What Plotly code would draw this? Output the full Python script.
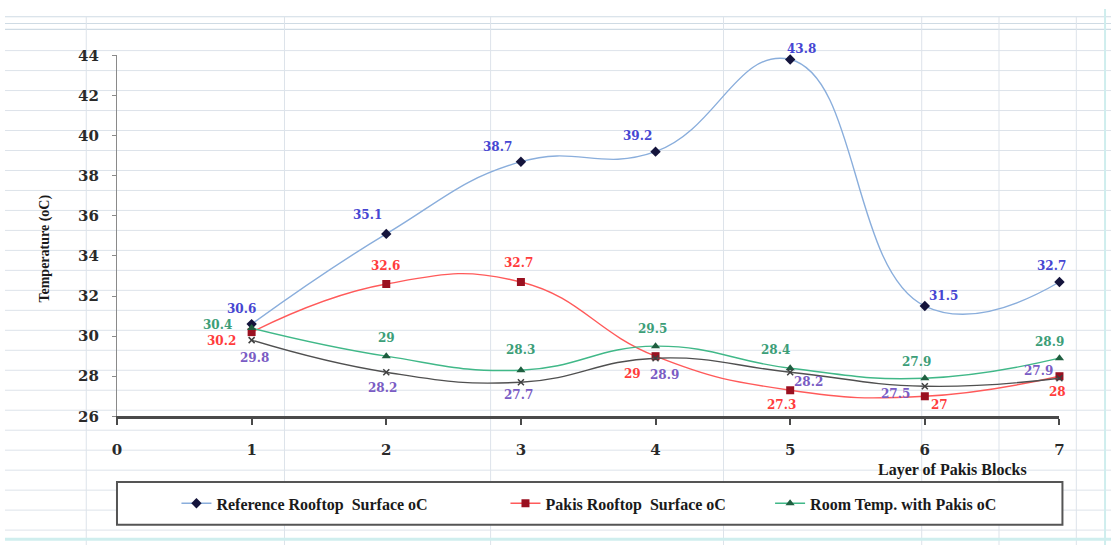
import plotly.graph_objects as go

W, H = 1116, 554

# ---- data ----
layers = [1, 2, 3, 4, 5, 6, 7]
reference_rooftop = [30.6, 35.1, 38.7, 39.2, 43.8, 31.5, 32.7]
pakis_rooftop = [30.2, 32.6, 32.7, 29, 27.3, 27, 28]
room_with_pakis = [30.4, 29, 28.3, 29.5, 28.4, 27.9, 28.9]
room_without = [29.8, 28.2, 27.7, 28.9, 28.2, 27.5, 27.9]
x_ticks = [0, 1, 2, 3, 4, 5, 6, 7]
y_ticks = [26, 28, 30, 32, 34, 36, 38, 40, 42, 44]

# label offsets (pixels, +y is up)
ref_off = [(-10, 15), (-19, 19), (-23, 15), (-18, 16), (11, 10), (19, 10), (-8, 16)]
pak_off = [(-30, -9), (-1, 18), (-2, 19), (-23, -18), (-9, -15), (15, -9), (-2, -16)]
room_off = [(-34, 3), (0, 18), (0, 20), (-3, 17), (-15, 18), (-8, 16), (-10, 16)]
bare_off = [(3, -18), (-4, -16), (-2, -13), (9, -17), (18, -10), (-29, -8), (-21, 7)]


def px(xp):
    return xp / W


def py(yp):
    return 1 - yp / H


NUM_FONT = "DejaVu Serif"
TXT_FONT = "Liberation Serif"

fig = go.Figure()

series = [
    dict(name="Reference Rooftop  Surface oC", y=reference_rooftop, line="#8aaedc",
         mk=dict(symbol="diamond", size=8, color="#14143c"), lab="#4646d2",
         off=ref_off, legend="legend"),
    dict(name="Pakis Rooftop  Surface oC", y=pakis_rooftop, line="#ff5a5a",
         mk=dict(symbol="square", size=8, color="#9a1020"), lab="#ff3c3c",
         off=pak_off, legend="legend2"),
    dict(name="Room Temp. with Pakis oC", y=room_with_pakis, line="#40b888",
         mk=dict(symbol="triangle-up", size=8, color="#1f5f40"), lab="#3c9e78",
         off=room_off, legend="legend3"),
    dict(name="Room Temp. without Pakis oC", y=room_without, line="#505050",
         mk=dict(symbol="x-thin", size=6, color="#404040", line=dict(width=1.5, color="#404040")),
         lab="#7a5cc4", off=bare_off, legend=None),
]

annotations = []
for s in series:
    fig.add_trace(go.Scatter(
        x=layers, y=s["y"], name=s["name"], mode="lines+markers",
        line=dict(color=s["line"], width=1.4, shape="spline", smoothing=1.3),
        marker=s["mk"], cliponaxis=False,
        showlegend=s["legend"] is not None,
        legend=s["legend"] if s["legend"] else "legend",
    ))
    for xv, yv, (dx, dy) in zip(layers, s["y"], s["off"]):
        annotations.append(dict(
            x=xv, y=yv, xref="x", yref="y", text=f"{yv:g}", showarrow=False,
            xshift=dx, yshift=dy, xanchor="center", yanchor="middle",
            font=dict(family=NUM_FONT, size=12, color=s["lab"], weight="bold"),
        ))

# axis titles
annotations.append(dict(
    x=px(40), y=py(248), xref="paper", yref="paper", text="Temperature (oC)",
    textangle=-90, showarrow=False, xanchor="center", yanchor="middle",
    font=dict(family=TXT_FONT, size=14, color="#1a1a1a", weight="bold"),
))
annotations.append(dict(
    x=px(956), y=py(476), xref="paper", yref="paper", text="Layer of Pakis Blocks",
    showarrow=False, xanchor="center", yanchor="middle",
    font=dict(family=TXT_FONT, size=16, color="#1a1a1a", weight="bold"),
))

# worksheet grid behind the chart
shapes = []
grid = "#dde3ea"
yy = 43.0
while yy < H:
    shapes.append(dict(type="line", xref="paper", yref="paper", x0=0, x1=1,
                       y0=py(yy), y1=py(yy), line=dict(color=grid, width=1), layer="below"))
    yy += 20.65
for yb in (8, 15, 21):
    shapes.append(dict(type="line", xref="paper", yref="paper", x0=0, x1=1,
                       y0=py(yb), y1=py(yb), line=dict(color="#cfdbe4", width=1.2), layer="below"))
for xv in (82, 282, 490, 725, 925, 1003, 1081):
    shapes.append(dict(type="line", xref="paper", yref="paper", x0=px(xv), x1=px(xv),
                       y0=0, y1=py(8), line=dict(color=grid, width=1), layer="below"))
shapes.append(dict(type="line", xref="paper", yref="paper", x0=px(1110), x1=px(1110),
                   y0=0, y1=1, line=dict(color="#cfeeee", width=2), layer="below"))
shapes.append(dict(type="line", xref="paper", yref="paper", x0=0, x1=1,
                   y0=py(548), y1=py(548), line=dict(color="#cfeeee", width=3), layer="below"))

# legend frame
shapes.append(dict(type="rect", xref="paper", yref="paper", x0=px(113), x1=px(1067),
                   y0=py(533), y1=py(489), line=dict(color="#555555", width=2),
                   fillcolor="white", layer="below"))

leg_font = dict(family=TXT_FONT, size=16, color="#1a1a1a", weight="bold")
leg_common = dict(orientation="h", yanchor="middle", y=py(511), xanchor="left",
                  bgcolor="rgba(0,0,0,0)", borderwidth=0, font=leg_font, itemwidth=30)

fig.update_layout(
    width=W, height=H, autosize=False,
    margin=dict(l=0, r=0, t=0, b=0),
    paper_bgcolor="white", plot_bgcolor="rgba(0,0,0,0)",
    xaxis=dict(
        domain=[px(113), px(1064)], range=[0, 7], tickvals=x_ticks,
        showgrid=False, zeroline=False, showline=True, linecolor="#4a4a4a", linewidth=3,
        ticks="outside", ticklen=6, tickcolor="#4a4a4a", tickwidth=1.5,
        ticklabelstandoff=12,
        tickfont=dict(family=NUM_FONT, size=15, color="#2a2a2a", weight="bold"),
    ),
    yaxis=dict(
        domain=[py(421), py(48)], range=[26, 44], tickvals=y_ticks,
        showgrid=False, zeroline=False, showline=True, linecolor="#8a8a8a", linewidth=1,
        ticks="outside", ticklen=4, tickcolor="#8a8a8a",
        ticklabelstandoff=10,
        tickfont=dict(family=NUM_FONT, size=15, color="#2a2a2a", weight="bold"),
    ),
    legend=dict(x=px(173), **leg_common),
    legend2=dict(x=px(505), **leg_common),
    legend3=dict(x=px(772), **leg_common),
    shapes=shapes,
    annotations=annotations,
)

fig.write_html("out.html")
